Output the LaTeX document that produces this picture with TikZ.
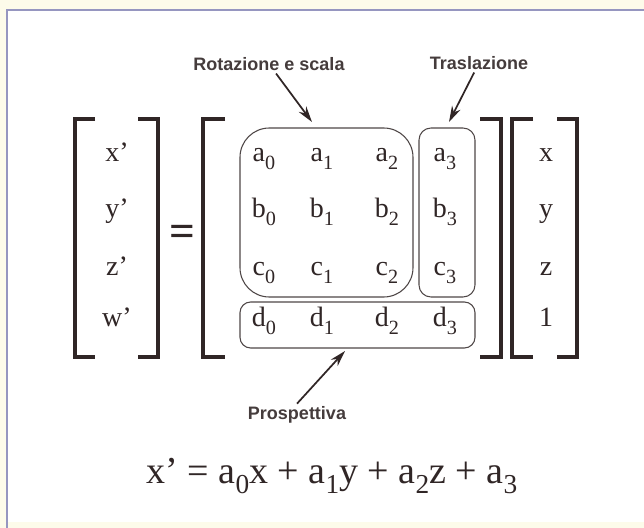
\documentclass[tikz,border=0pt]{standalone}
\usepackage{fontspec}
\setmainfont{Liberation Serif}
\newfontfamily\labfont{Liberation Sans}
\usepackage{tikz}
\usetikzlibrary{arrows.meta}
\definecolor{ink}{RGB}{48,38,38}
\definecolor{framec}{RGB}{150,150,192}
\definecolor{paper}{RGB}{253,251,234}
\newcommand{\lo}[1]{\raisebox{-0.28em}{\scalebox{0.72}{#1}}}
\newcommand{\px}{0.75pt}

\begin{document}
\begin{tikzpicture}[x=0.75pt, y=-0.75pt,
  entry/.style={anchor=base, text=ink, font=\fontsize{21}{21}\selectfont, inner sep=1pt},
  brk/.style={draw=ink, line width=2.3pt},
  box/.style={draw=ink!85, line width=0.8pt, inner sep=0pt},
  lab/.style={text=ink!90, font=\labfont\bfseries\fontsize{13.5}{14}\selectfont, inner sep=2pt},
  pointer/.style={draw=ink, line width=1.3pt, -{Stealth[length=12pt, width=7pt]}}]
\useasboundingbox (0,0) rectangle (644,528);

% page and frame
\fill[paper] (0,0) rectangle (644,528);
\fill[white] (7,10) rectangle (644,522);
\draw[framec, line width=1.6pt] (7,528) -- (7,10) -- (644,10);

% brackets
\foreach \xa/\xb in {75/95, 203/225, 512/533, 158/138, 501/480, 577/557}
  \draw[brk] (\xb,119) -| (\xa,357) -- (\xb,357);
\node[text=ink, font=\bfseries\fontsize{34}{34}\selectfont, inner sep=0pt] (eq) at (182,236) {=};

% entries row by row
\foreach \r/\yb/\lv/\rv/\ml in {1/162/x/x/a, 2/218/y/y/b, 3/276/z/z/c, 4/327/w/1/d} {
  \node[entry] (v\r) at (117,\yb) {{\lv}’};
  \node[entry] (u\r) at (546,\yb) {\rv};
  \foreach \c/\xc in {0/264, 1/322, 2/387, 3/445}
    \node[entry] (m\ml\c) at (\xc,\yb) {\ml\lo{\c}};
}

% grouping boxes
\node[box, rounded corners=22pt, minimum width=173*\px, minimum height=169*\px] (rotbox) at (326.5,212.5) {};
\node[box, rounded corners=9pt, minimum width=56*\px, minimum height=169*\px] (trbox) at (447,212.5) {};
\node[box, rounded corners=8pt, minimum width=235*\px, minimum height=46*\px] (prbox) at (357.5,325) {};

% labels and arrows
\node[lab] (rotlab) at (269,64) {Rotazione e scala};
\node[lab] (trlab) at (479,63) {Traslazione};
\node[lab] (prlab) at (297,415) {Prospettiva};
\coordinate (rottip) at (312,122);
\coordinate (trtip) at (449,122);
\coordinate (prtip) at (345,351);
\draw[pointer] (rotlab) -- (rottip);
\draw[pointer] (trlab) -- (trtip);
\draw[pointer] (prlab.north) -- (prtip);

% first row written out
\node[anchor=base, text=ink, font=\fontsize{28.5}{30}\selectfont] (eqn) at (332,483)
  {x’ = a\lo{0}x + a\lo{1}y + a\lo{2}z + a\lo{3}};
\end{tikzpicture}
\end{document}
